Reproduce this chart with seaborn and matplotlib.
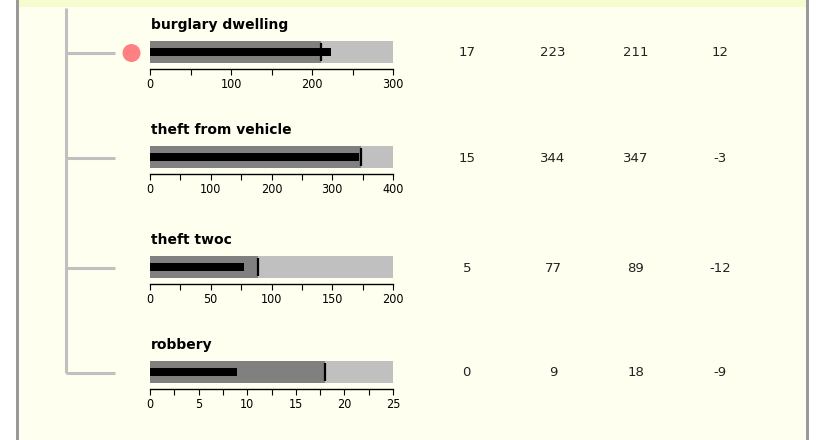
import matplotlib
matplotlib.use("Agg")
import matplotlib.pyplot as plt
import matplotlib.ticker as ticker
from matplotlib.patches import Rectangle, Circle
import seaborn as sns

# data
categories = ['burglary dwelling', 'theft from vehicle', 'theft twoc', 'robbery']
col_count = [17, 15, 5, 0]
current = [223, 344, 77, 9]
previous = [211, 347, 89, 18]
change = [12, -3, -12, -9]
range_max = [300, 400, 200, 25]
major_step = [100, 100, 50, 5]

sns.set_style('white')
plt.rcParams['font.family'] = ['DejaVu Sans']

W, H = 816, 440
bar_top = [41, 146, 256, 361]
bar_h = 22
num_x = [466.7, 553, 636, 720]

fig = plt.figure(figsize=(W / 100, H / 100), dpi=100)
fig.patch.set_facecolor('white')

# background / frame in pixel coords
bg = fig.add_axes([0, 0, 1, 1])
bg.set_xlim(0, W)
bg.set_ylim(H, 0)
bg.axis('off')
bg.add_patch(Rectangle((19, 0), 787, H, color='#fffff0', lw=0))
bg.add_patch(Rectangle((19, 0), 787, 7.5, color='#f6fccf', lw=0))
bg.add_patch(Rectangle((16, 0), 3, H, color='#999999', lw=0))
bg.add_patch(Rectangle((806, 0), 3, H, color='#999999', lw=0))

# tree lines
centers = [t + bar_h / 2 for t in bar_top]
bg.plot([66, 66], [8, centers[-1] + 1], color='#c0c0c0', lw=2.2, solid_capstyle='butt')
for c in centers:
    bg.plot([66, 115], [c + 1, c + 1], color='#c0c0c0', lw=2.2, solid_capstyle='butt')

# status dot
bg.add_patch(Circle((131.5, 53), 9, color='#ff8080', lw=0))

for i, name in enumerate(categories):
    top = bar_top[i]
    ax = fig.add_axes([150 / W, 1 - (top + bar_h) / H, 243 / W, bar_h / H])
    ax.set_facecolor('none')
    sns.barplot(x=[range_max[i]], y=[name], orient='h', color='#c0c0c0',
                width=1, saturation=1, errorbar=None, linewidth=0, ax=ax)
    sns.barplot(x=[previous[i]], y=[name], orient='h', color='#808080',
                width=1, saturation=1, errorbar=None, linewidth=0, ax=ax)
    sns.barplot(x=[current[i]], y=[name], orient='h', color='black',
                width=0.36, saturation=1, errorbar=None, linewidth=0, ax=ax)
    ax.vlines(previous[i], -0.43, 0.43, color='black', lw=1.6)
    ax.set_xlim(0, range_max[i])
    ax.set_ylim(0.5, -0.5)
    ax.set_xlabel('')
    ax.set_ylabel('')
    ax.set_yticks([])
    for s in ['top', 'left', 'right']:
        ax.spines[s].set_visible(False)
    ax.spines['bottom'].set_position(('outward', 4))
    ax.spines['bottom'].set_color('black')
    ax.spines['bottom'].set_linewidth(1)
    ax.xaxis.set_major_locator(ticker.MultipleLocator(major_step[i]))
    ax.xaxis.set_minor_locator(ticker.MultipleLocator(major_step[i] / 2))
    ax.tick_params(axis='x', which='both', bottom=True, direction='out',
                   length=4.5, width=0.8, color='black', labelcolor='black', pad=2)
    for lab in ax.get_xticklabels():
        lab.set_fontfamily(['DejaVu Sans'])
        lab.set_fontstretch('condensed')
        lab.set_fontsize(9)

    # row title
    bg.text(151, top - 12, name, fontsize=10, fontweight='bold',
            ha='left', va='baseline', color='black')
    # numbers
    vals = [col_count[i], current[i], previous[i], change[i]]
    for x, v in zip(num_x, vals):
        bg.text(x, top + bar_h / 2 + 1, str(v), fontsize=9.5, ha='center',
                va='center', color='#222222')

fig.savefig('out.png', dpi=100)
